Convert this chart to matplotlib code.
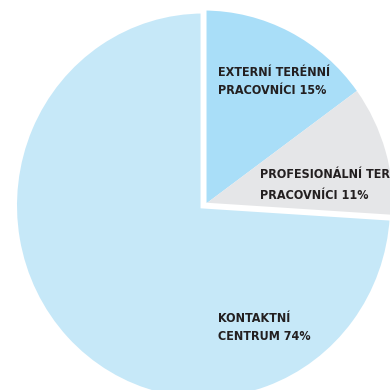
import matplotlib.pyplot as plt

# Podíl kontaktů podle typu pracovníka
labels = ["EXTERNÍ TERÉNNÍ\nPRACOVNÍCI", "PROFESIONÁLNÍ TERÉNNÍ\nPRACOVNÍCI", "KONTAKTNÍ\nCENTRUM"]
values = [15, 11, 74]
colors = ["#a9def8", "#e5e6e8", "#c6e8f8"]

# levý okraj a účaří řádků popisků v pixelech (shora)
label_x = [218, 260, 218]
label_baselines = [(76, 94), (178.5, 199.5), (322, 340.5)]

W = H = 390
fig = plt.figure(figsize=(W / 100, H / 100), dpi=100)
ax = fig.add_axes([0, 0, 1, 1])

wedges, _ = ax.pie(
    values,
    colors=colors,
    startangle=90,
    counterclock=False,
    radius=1,
)

# velká výseč oddělená bílou mezerou
wedges[2].set_edgecolor("white")
wedges[2].set_linewidth(4.3)
wedges[2].set_zorder(3)

ax.set_aspect("auto")
ax.set_xlim(-1.074, 0.984)
ax.set_ylim(-0.946, 1.054)
ax.axis("off")

for lab, val, x, ys in zip(labels, values, label_x, label_baselines):
    lines = lab.split("\n")
    lines[-1] = f"{lines[-1]} {val}%"
    for line, y in zip(lines, ys):
        ax.text(
            x / W, 1 - y / H,
            line,
            transform=ax.transAxes,
            ha="left", va="baseline",
            fontsize=9,
            fontweight="bold",
            family="DejaVu Sans",
            fontstretch="condensed",
            color="#231f20",
            zorder=5,
        )

plt.savefig("out.png", dpi=100)
